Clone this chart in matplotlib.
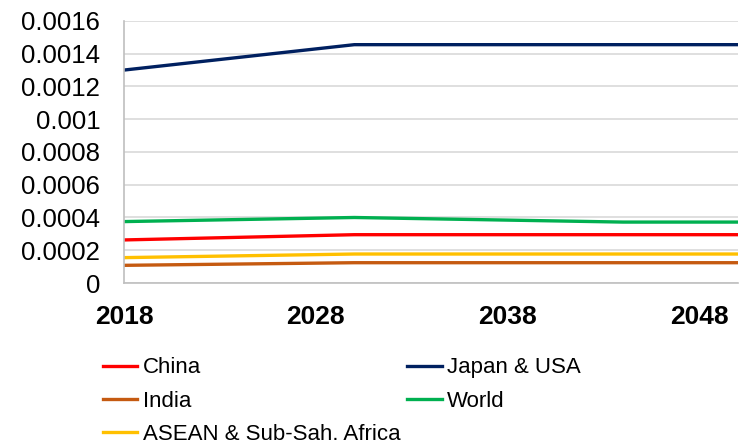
import matplotlib.pyplot as plt

plt.rcParams['font.family'] = ['Liberation Sans', 'DejaVu Sans']

# Data
years = [2018, 2030, 2044, 2050]
china = [0.000263, 0.000295, 0.000295, 0.000295]
japan_usa = [0.00130, 0.001455, 0.001455, 0.001455]
india = [0.000108, 0.000124, 0.000124, 0.000124]
world = [0.000375, 0.000400, 0.000372, 0.000372]
asean_ssa = [0.000155, 0.000177, 0.000177, 0.000177]

xticks = [2018, 2028, 2038, 2048]
yticks = [0, 0.0002, 0.0004, 0.0006, 0.0008, 0.001, 0.0012, 0.0014, 0.0016]
ylabels = ['0', '0.0002', '0.0004', '0.0006', '0.0008', '0.001', '0.0012', '0.0014', '0.0016']

fig = plt.figure(figsize=(7.41, 4.45), dpi=100)
ax = fig.add_axes([0.1673, 0.364, 0.829, 0.589])

lw = 2.4
l_china, = ax.plot(years, china, color='#FF0000', lw=lw, label='China')
l_japan, = ax.plot(years, japan_usa, color='#002060', lw=lw, label='Japan & USA')
l_india, = ax.plot(years, india, color='#C55A11', lw=lw, label='India')
l_world, = ax.plot(years, world, color='#00B050', lw=lw, label='World')
l_asean, = ax.plot(years, asean_ssa, color='#FFC000', lw=lw, label='ASEAN & Sub-Sah. Africa')

ax.set_xlim(2018, 2050)
ax.set_ylim(0, 0.0016)
ax.set_xticks(xticks)
ax.set_xticklabels([str(y) for y in xticks], fontsize=19, fontweight='bold')
ax.set_yticks(yticks)
ax.set_yticklabels(ylabels, fontsize=18.5)
ax.tick_params(length=0)
ax.tick_params(axis='y', pad=17)
ax.tick_params(axis='x', pad=16)

ax.grid(axis='y', color='#D9D9D9', lw=1.2)
ax.set_axisbelow(True)
for s in ['top', 'right']:
    ax.spines[s].set_visible(False)
for s in ['left', 'bottom']:
    ax.spines[s].set_color('#BFBFBF')
    ax.spines[s].set_linewidth(1.2)

# column-wise fill: China, India, ASEAN | Japan & USA, World
handles = [l_china, l_india, l_asean, l_japan, l_world]
fig.legend(handles, [h.get_label() for h in handles], ncol=2,
           loc='upper left', bbox_to_anchor=(0.139, 0.197),
           frameon=False, fontsize=16, handlelength=1.55,
           handletextpad=0.25, columnspacing=0.3, labelspacing=0.55,
           borderaxespad=0, borderpad=0)

fig.savefig('out.png', dpi=100)
